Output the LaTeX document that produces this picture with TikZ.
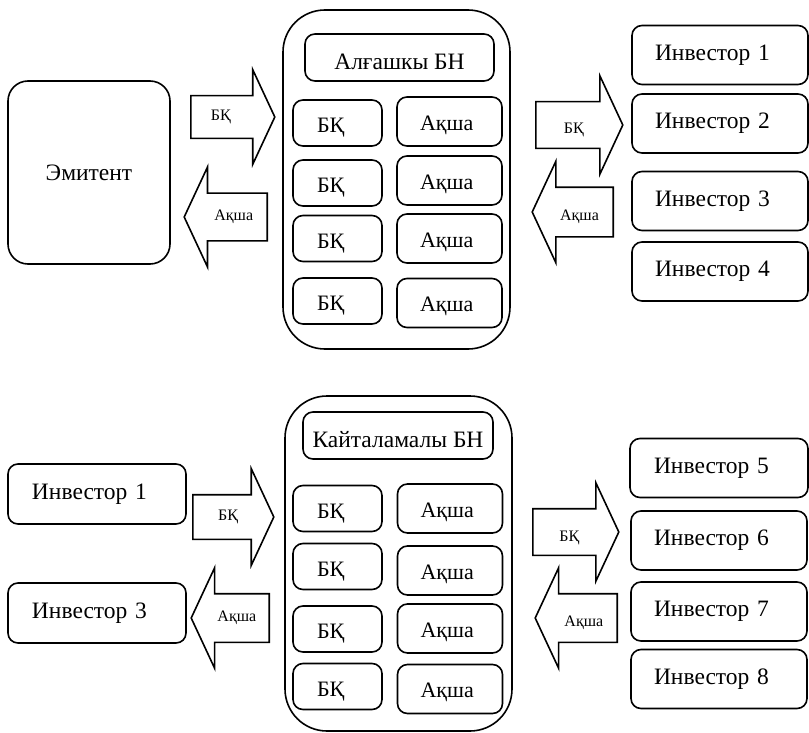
\documentclass[tikz,border=0pt]{standalone}
\usepackage{fontspec}
\setmainfont{Liberation Serif}
\usetikzlibrary{positioning, shapes.arrows}

\begin{document}
\begin{tikzpicture}[x=1bp, y=-1bp, line width=1.6bp,
    box/.style={rectangle, draw, rounded corners=10bp, font=\fontsize{23.5bp}{28bp}\selectfont},
    market/.style={rectangle, draw, rounded corners=42bp},
    titlebox/.style={box, minimum height=47bp, text height=23.5bp, text depth=0bp},
    invbox/.style={box, minimum width=176bp, minimum height=59bp, text width=130bp, align=left},
    bkbox/.style={box, font=\fontsize{22bp}{26bp}\selectfont, minimum width=89bp, minimum height=46bp,
        text width=41bp, align=left, text height=19bp, text depth=0bp},
    akbox/.style={box, font=\fontsize{22bp}{26bp}\selectfont, minimum width=105bp, minimum height=49bp,
        text width=59bp, align=left, text height=17.5bp, text depth=0bp},
    flow/.style={single arrow, draw, single arrow head extend=26bp, single arrow tip angle=130,
        inner xsep=0bp, inner ysep=22.5bp, anchor=tail},
    toright/.style={flow},
    toleft/.style={flow, shape border rotate=180},
    flowtext/.style={font=\fontsize{16bp}{19bp}\selectfont, inner sep=0bp}]
    \useasboundingbox (0,0) rectangle (809,733);

    % Primary market
    \node at (89,172.5) [box, rounded corners=20bp, minimum width=162bp, minimum height=183bp] (emit) {Эмитент};
    \node at (396.5,179.5) [market, minimum width=227bp, minimum height=339bp] (prim) {};
    \node at (399.5,57.5) [titlebox, minimum width=189bp] (primt) {Алғашкы БН};

    \node at (337.5,123) [bkbox] (bk11) {БҚ};
    \node[bkbox, below of=bk11, node distance=60bp] (bk12) {БҚ};
    \node[bkbox, below of=bk12, node distance=55.5bp] (bk13) {БҚ};
    \node[bkbox, below of=bk13, node distance=62.5bp] (bk14) {БҚ};

    \node at (449.5,121.5) [akbox] (ak11) {Ақша};
    \node[akbox, below of=ak11, node distance=59bp] (ak12) {Ақша};
    \node[akbox, below of=ak12, node distance=58bp] (ak13) {Ақша};
    \node[akbox, below of=ak13, node distance=64.5bp] (ak14) {Ақша};

    \node at (720,55) [invbox] (inv1) {Инвестор 1};
    \node[invbox, below of=inv1, node distance=68.5bp] (inv2) {Инвестор 2};
    \node[invbox, below of=inv2, node distance=77.5bp] (inv3) {Инвестор 3};
    \node[invbox, below of=inv3, node distance=70.5bp] (inv4) {Инвестор 4};

    \node at (190,117) [toright, inner ysep=20.5bp, minimum height=84bp, minimum width=91bp,
        label={[flowtext, xshift=-7bp]center:БҚ}] (pa1) {};
    \node at (268,217) [toleft, inner ysep=23bp, minimum height=83bp, minimum width=100bp,
        label={[flowtext, xshift=2.5bp]center:Ақша}] (pa2) {};
    \node at (535,125) [toright, minimum height=87bp, minimum width=96bp,
        label={[flowtext, yshift=-5bp]center:БҚ}] (pa3) {};
    \node at (614,212) [toleft, inner ysep=24bp, minimum height=81bp, minimum width=100bp,
        label={[flowtext, xshift=1bp, yshift=-5bp]center:Ақша}] (pa4) {};

    % Secondary market
    \node at (97,494) [invbox, minimum width=178bp, minimum height=60bp] (sinv1) {Инвестор 1};
    \node[invbox, minimum width=178bp, minimum height=60bp, below of=sinv1, node distance=119bp] (sinv3) {Инвестор 3};
    \node at (398.5,563.5) [market, minimum width=227bp, minimum height=335bp] (sec) {};
    \node at (398,435.5) [titlebox, minimum width=190bp] (sect) {Кайталамалы БН};

    \node at (337.5,508.5) [bkbox] (bk21) {БҚ};
    \node[bkbox, below of=bk21, node distance=58bp] (bk22) {БҚ};
    \node[bkbox, below of=bk22, node distance=62.5bp] (bk23) {БҚ};
    \node[bkbox, below of=bk23, node distance=57.5bp] (bk24) {БҚ};

    \node at (450,508.5) [akbox] (ak21) {Ақша};
    \node[akbox, below of=ak21, node distance=62bp] (ak22) {Ақша};
    \node[akbox, below of=ak22, node distance=58bp] (ak23) {Ақша};
    \node[akbox, below of=ak23, node distance=60.5bp] (ak24) {Ақша};

    \node at (719,468) [invbox, minimum width=178bp] (inv5) {Инвестор 5};
    \node[invbox, below of=inv5, node distance=72.5bp] (inv6) {Инвестор 6};
    \node[invbox, below of=inv6, node distance=71bp] (inv7) {Инвестор 7};
    \node[invbox, below of=inv7, node distance=67.5bp] (inv8) {Инвестор 8};

    \node at (192,517) [toright, inner ysep=21.5bp, minimum height=81bp, minimum width=90bp,
        label={[flowtext]center:БҚ}] (pa5) {};
    \node at (270,618) [toleft, inner ysep=23.5bp, minimum height=78bp, minimum width=99bp,
        label={[flowtext, xshift=1bp]center:Ақша}] (pa6) {};
    \node at (532,532) [toright, minimum height=86bp, minimum width=97bp,
        label={[flowtext, xshift=-1bp, yshift=-6bp]center:БҚ}] (pa7) {};
    \node at (618,618) [toleft, inner ysep=23.5bp, minimum height=82bp, minimum width=97bp,
        label={[flowtext, xshift=2bp, yshift=-5bp]center:Ақша}] (pa8) {};
\end{tikzpicture}
\end{document}
